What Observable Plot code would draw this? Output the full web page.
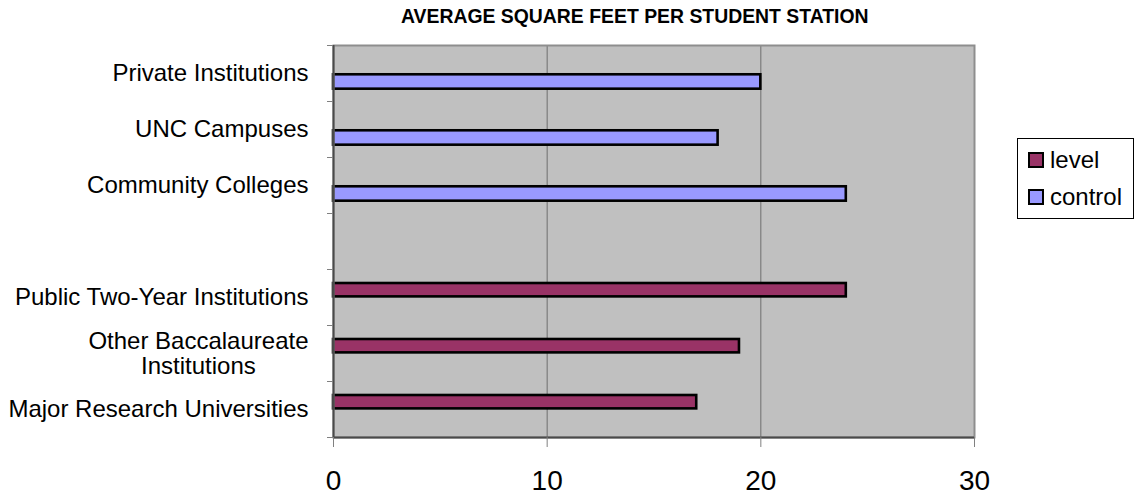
<!DOCTYPE html>
<html>
<head>
<meta charset="utf-8">
<script src="https://cdn.jsdelivr.net/npm/d3@7"></script>
<script src="https://cdn.jsdelivr.net/npm/@observablehq/plot@0.6"></script>
<style>
  html, body { margin: 0; padding: 0; background: #fff; }
  #wrap { position: relative; width: 1134px; height: 502px; overflow: hidden; font-family: "Liberation Sans", Arial, sans-serif; }
  #title { position: absolute; left: 401px; top: 7px; font-size: 19.4px; line-height: 19.4px; font-weight: bold; white-space: nowrap; color: #000; }
  #legend { position: absolute; left: 1017px; top: 138px; width: 117px; height: 81px; border: 1px solid #000; background: #fff; box-sizing: border-box; }
  .item { position: absolute; left: 10px; height: 26px; display: flex; align-items: center; font-size: 24px; line-height: 26px; color: #000; }
  .sw { width: 12px; height: 12px; border: 2px solid #000; margin-right: 6px; }
  #chart { position: absolute; left: 0; top: 0; }
</style>
</head>
<body>
<div id="wrap">
  <div id="chart"></div>
  <div id="title"></div>
  <div id="legend"></div>
</div>
<script>
// ---- data ----
const categories = [
  "Private Institutions",
  "UNC Campuses",
  "Community Colleges",
  "",
  "Public Two-Year Institutions",
  "Other Baccalaureate\nInstitutions",
  "Major Research Universities"
];
const series = ["level", "control"];
const seriesColors = ["#993366", "#9999ff"];
const levelCategories = ["Public Two-Year Institutions", "Other Baccalaureate\nInstitutions", "Major Research Universities"];
const levelValues = [24, 19, 17];
const controlCategories = ["Private Institutions", "UNC Campuses", "Community Colleges"];
const controlValues = [20, 18, 24];
const xTicks = [0, 10, 20, 30];
const chartTitle = "AVERAGE SQUARE FEET PER STUDENT STATION";

// ---- table ----
const rows = [
  ...levelCategories.map((c, i) => ({series: "level", category: c, value: levelValues[i], index: categories.indexOf(c)})),
  ...controlCategories.map((c, i) => ({series: "control", category: c, value: controlValues[i], index: categories.indexOf(c)}))
];

// bar placement inside each category slot (fractions of a slot)
const slotOffsets = {level: [-0.25, -0.011], control: [0.023, 0.28]};
const centers = d3.range(categories.length);
const bounds = d3.range(categories.length + 1).map(i => i - 0.5);
const singleLine = centers.filter(i => !categories[i].includes("\n"));
const multiLine = centers.filter(i => categories[i].includes("\n"));

// measure the widest line of multi-line labels so they can be centred as a block
const FONT = "'Liberation Sans', Arial, sans-serif";
const ctx = document.createElement("canvas").getContext("2d");
ctx.font = `24px ${FONT}`;
const blockWidth = i => d3.max(categories[i].split("\n"), s => ctx.measureText(s).width);
const labelPad = 25;

const W = 1134, H = 502;
const chart = Plot.plot({
  width: W,
  height: H,
  marginLeft: 333,
  marginRight: 160,
  marginTop: 45,
  marginBottom: 65,
  style: {fontFamily: FONT, fontSize: "24px", color: "#000", background: "transparent", overflow: "visible"},
  x: {domain: [0, 30], axis: null},
  y: {domain: [-0.5, categories.length - 0.5], reverse: true, axis: null},
  color: {domain: series, range: seriesColors},
  marks: [
    Plot.frame({fill: "#c0c0c0", stroke: null}),
    Plot.ruleX(xTicks.filter(t => t > 0 && t < 30), {stroke: "#6e6e6e", strokeWidth: 1}),
    Plot.rect(rows, {
      x1: 0,
      x2: "value",
      y1: d => d.index + slotOffsets[d.series][0],
      y2: d => d.index + slotOffsets[d.series][1],
      fill: "series",
      stroke: "#000",
      strokeWidth: 2.6
    }),
    Plot.frame({stroke: "#8e8e8e", strokeWidth: 2}),
    Plot.ruleX([0], {stroke: "#4a4a4a", strokeWidth: 2}),
    Plot.ruleY([categories.length - 0.5], {stroke: "#4a4a4a", strokeWidth: 2}),
    // category boundary ticks (no labels)
    Plot.axisY({ticks: bounds, tickSize: 6, tickFormat: () => "", stroke: "#808080", label: null}),
    // single-line category labels at slot centres
    Plot.axisY({ticks: singleLine, tickSize: 0, tickPadding: labelPad, tickFormat: i => categories[i], fontSize: 24, label: null}),
    // multi-line labels: centred block, right edge at the label column
    ...multiLine.map(i => Plot.text([i], {
      y: d => d,
      text: d => categories[d],
      frameAnchor: "left",
      textAnchor: "middle",
      lineAnchor: "middle",
      lineHeight: 1.05,
      dx: -(labelPad + blockWidth(i) / 2),
      fontSize: 24,
      fill: "#000"
    })),
    Plot.axisX({ticks: xTicks, tickSize: 10, tickPadding: 23, tickFormat: d => String(d), fontSize: 28, stroke: "#808080", label: null})
  ]
});
document.getElementById("chart").appendChild(chart);
document.getElementById("title").textContent = chartTitle;

// legend
const legend = document.getElementById("legend");
series.forEach((s, i) => {
  const item = document.createElement("div");
  item.className = "item";
  item.style.top = (8 + i * 37) + "px";
  const sw = document.createElement("div");
  sw.className = "sw";
  sw.style.background = seriesColors[i];
  const tx = document.createElement("span");
  tx.textContent = s;
  item.appendChild(sw);
  item.appendChild(tx);
  legend.appendChild(item);
});
</script>
</body>
</html>
